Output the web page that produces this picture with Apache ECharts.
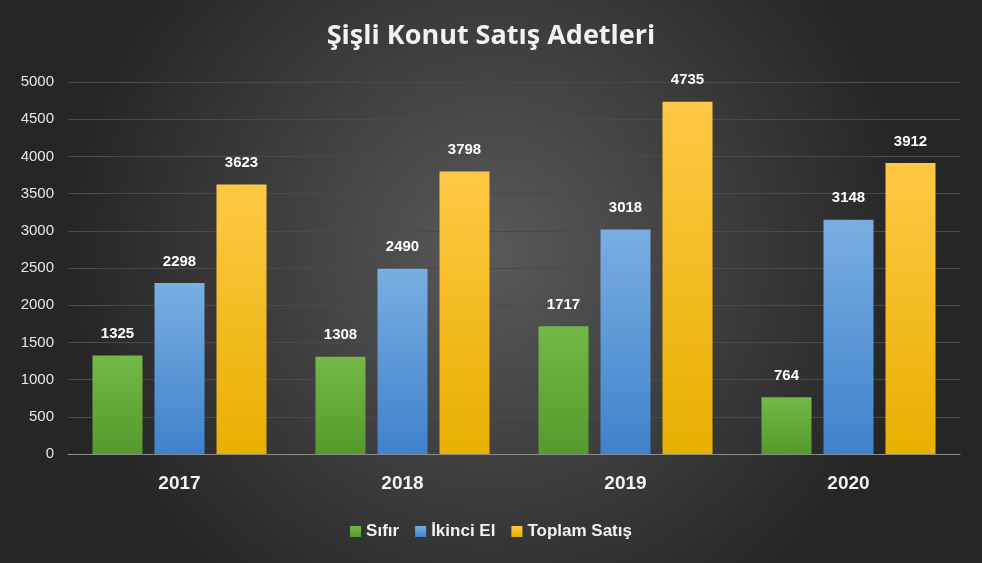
<!DOCTYPE html>
<html><head><meta charset="utf-8">
<script src="https://cdn.jsdelivr.net/npm/echarts@6/dist/echarts.min.js"></script>
<style>html,body{margin:0;padding:0;}#c{width:982px;height:563px;}</style>
</head><body><div id="c"></div>
<script>
const years = ['2017','2018','2019','2020'];
const sifir = [1325,1308,1717,764];
const ikinciEl = [2298,2490,3018,3148];
const toplam = [3623,3798,4735,3912];
const yTicks = [0,500,1000,1500,2000,2500,3000,3500,4000,4500,5000];

const grad = (a,b)=>new echarts.graphic.LinearGradient(0,0,0,1,[{offset:0,color:a},{offset:1,color:b}]);
const lbl = {show:true,position:'top',distance:14,color:'#fff',fontWeight:'bold',fontSize:15,fontFamily:'Liberation Sans'};
const chart = echarts.init(document.getElementById('c'));
chart.setOption({
  backgroundColor:{type:'radial',x:0.5,y:0.45,r:0.75,colorStops:[{offset:0,color:'#595959'},{offset:1,color:'#262626'}]},
  animation:false,
  title:{text:'Şişli Konut Satış Adetleri',left:'center',top:18,textStyle:{color:'#f2f2f2',fontSize:27,fontWeight:'bold',fontFamily:'Open Sans'}},
  grid:{left:68,right:22,top:82,bottom:109},
  legend:{bottom:18,itemWidth:11,itemHeight:11,itemGap:16,icon:'rect',textStyle:{color:'#f2f2f2',fontSize:17,fontWeight:'bold',fontFamily:'Liberation Sans'}},
  xAxis:{type:'category',data:years,axisLine:{lineStyle:{color:'#8c8c8c'}},axisTick:{show:false},
    axisLabel:{color:'#f2f2f2',fontSize:19,fontWeight:'bold',fontFamily:'Liberation Sans',margin:20}},
  yAxis:{type:'value',min:0,max:5000,interval:500,axisLine:{show:false},axisTick:{show:false},
    splitLine:{lineStyle:{color:'#4a4a4a'}},
    axisLabel:{color:'#e6e6e6',fontSize:15,fontFamily:'Liberation Sans',margin:14,formatter:v=>yTicks.includes(v)?String(v):''}},
  series:[
    {name:'Sıfır',type:'bar',data:sifir,barWidth:50,barGap:'24%',itemStyle:{color:grad('#75b84a','#559a2c')},label:lbl},
    {name:'İkinci El',type:'bar',data:ikinciEl,barWidth:50,barGap:'24%',itemStyle:{color:grad('#7aaee2','#3f82cc')},label:lbl},
    {name:'Toplam Satış',type:'bar',data:toplam,barWidth:50,barGap:'24%',itemStyle:{color:grad('#ffc845','#e8b000')},label:lbl}
  ]
});
</script></body></html>
